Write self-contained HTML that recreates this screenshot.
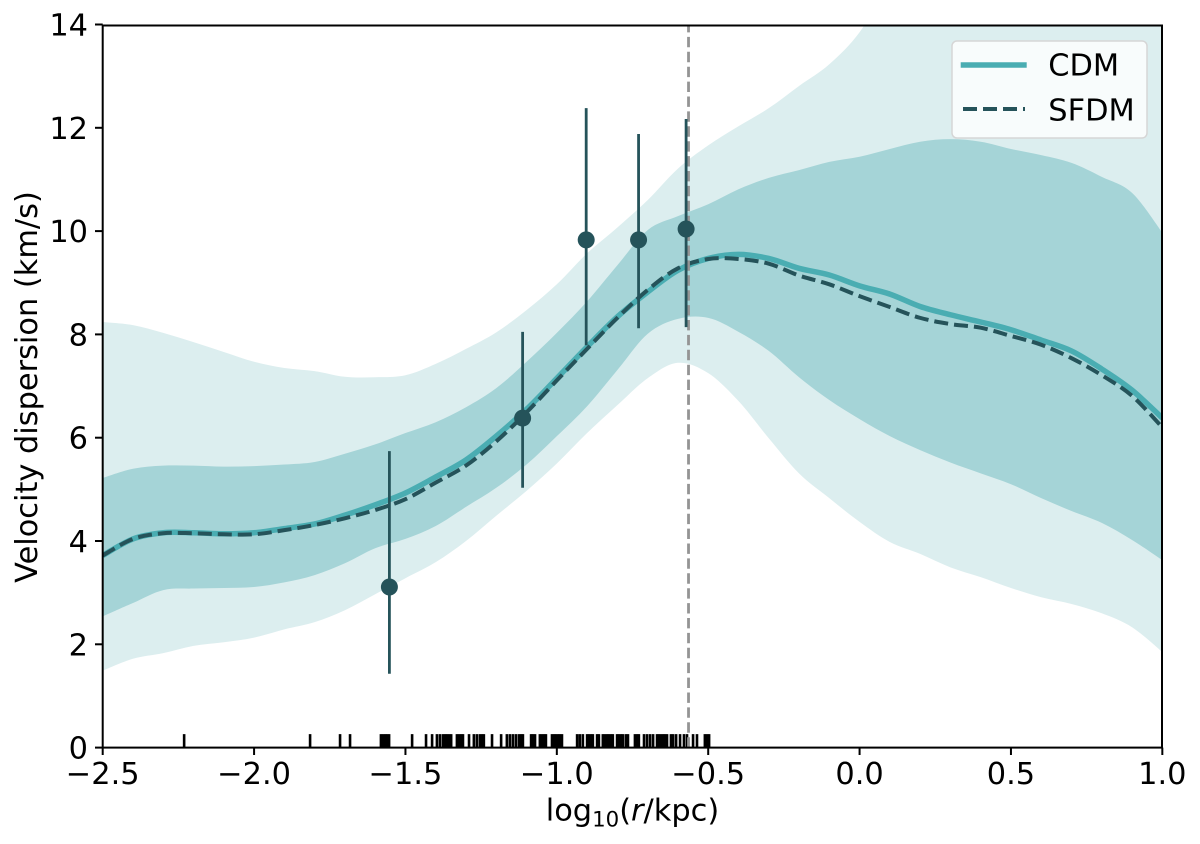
<!DOCTYPE html>
<html>
<head>
<meta charset="utf-8">
<title>Velocity dispersion profile</title>
<style>
html,body{margin:0;padding:0;background:#fff;width:1200px;height:844px;overflow:hidden}
svg{display:block}
text{font-family:"DejaVu Sans","Liberation Sans",sans-serif;fill:#000}
</style>
</head>
<body>
<svg id="chart" xmlns="http://www.w3.org/2000/svg" width="1200" height="844" viewBox="0 0 1200 844">
<defs><clipPath id="plot-clip"><rect x="102.7" y="25" width="1059.3" height="722.6"/></clipPath></defs>
<g id="plot" clip-path="url(#plot-clip)"></g>
<g id="frame"></g>
<text x="632.5" y="820.5" text-anchor="middle" font-size="30.4">log<tspan font-size="21.3" dy="6">10</tspan><tspan dy="-6">(</tspan><tspan font-style="italic">r</tspan>/kpc)</text>
<text transform="translate(37,387) rotate(-90)" text-anchor="middle" font-size="30.4">Velocity dispersion (km/s)</text>
<g>
  <rect x="952" y="41" width="195" height="97" rx="5" ry="5" fill="#fff" fill-opacity="0.8" stroke="#d6d6d6" stroke-width="1.5"/>
  <line x1="960.7" x2="1026.7" y1="65" y2="65" stroke="#4AADB2" stroke-width="5.5"/>
  <text x="1048.3" y="75.5" font-size="30.4">CDM</text>
  <line x1="963" x2="1025" y1="109" y2="109" stroke="#25535A" stroke-width="4" stroke-dasharray="14 6"/>
  <text x="1048.3" y="120.5" font-size="30.4">SFDM</text>
</g>
</svg>
<script>
const radius = [-2.5,-2.4,-2.3,-2.2,-2.1,-2.0,-1.9,-1.8,-1.7,-1.6,-1.5,-1.4,-1.3,-1.2,-1.1,-1.0,-0.9,-0.8,-0.7,-0.6,-0.5,-0.4,-0.3,-0.2,-0.1,0,0.1,0.2,0.3,0.4,0.5,0.6,0.7,0.8,0.9,1.0];
const outerUpper = [8.24,8.18,8.03,7.85,7.66,7.47,7.35,7.29,7.18,7.17,7.21,7.43,7.72,8.04,8.47,8.97,9.57,10.07,10.6,11.21,11.66,12.03,12.38,12.81,13.23,13.85,14.8,15.4,15.9,16.3,16.6,16.8,17,17.1,17.2,17.3];
const outerLower = [1.49,1.72,1.83,1.97,2.04,2.13,2.29,2.43,2.66,2.97,3.28,3.59,4.0,4.49,4.97,5.5,6.09,6.63,7.15,7.45,7.25,6.71,5.99,5.31,4.83,4.37,3.98,3.75,3.49,3.30,3.09,2.91,2.78,2.6,2.33,1.85];
const innerUpper = [5.22,5.4,5.46,5.46,5.44,5.45,5.48,5.53,5.69,5.87,6.09,6.30,6.59,6.96,7.47,8.03,8.64,9.34,10.02,10.29,10.52,10.81,11.03,11.18,11.34,11.44,11.59,11.73,11.78,11.73,11.59,11.47,11.32,11.05,10.74,9.97];
const innerLower = [2.54,2.8,3.05,3.08,3.09,3.11,3.2,3.34,3.57,3.86,4.04,4.29,4.66,5.03,5.48,6.03,6.61,7.31,8.01,8.3,8.32,8.05,7.68,7.17,6.73,6.36,6.03,5.76,5.52,5.31,5.1,4.83,4.58,4.35,4.02,3.63];
const cdm = [3.72,4.04,4.16,4.16,4.14,4.16,4.24,4.33,4.5,4.7,4.93,5.24,5.57,6.03,6.55,7.15,7.76,8.34,8.82,9.24,9.47,9.55,9.47,9.28,9.15,8.94,8.78,8.54,8.38,8.24,8.09,7.89,7.68,7.33,6.92,6.38];
const sfdm = [3.72,4.04,4.15,4.15,4.13,4.13,4.21,4.31,4.44,4.6,4.81,5.13,5.46,5.93,6.49,7.11,7.72,8.32,8.86,9.28,9.46,9.46,9.37,9.14,8.97,8.74,8.53,8.32,8.2,8.13,7.97,7.8,7.54,7.21,6.81,6.2];
const obsX = [-1.553,-1.113,-0.903,-0.73,-0.573];
const obsY = [3.11,6.38,9.83,9.83,10.04];
const obsHigh = [5.74,8.05,12.38,11.88,12.17];
const obsLow = [1.43,5.03,7.79,8.12,8.14];
const rugValues = [-2.231,-1.815,-1.716,-1.683,-1.581,-1.574,-1.567,-1.561,-1.554,-1.478,-1.432,-1.412,-1.396,-1.386,-1.376,-1.369,-1.363,-1.356,-1.349,-1.330,-1.323,-1.316,-1.310,-1.290,-1.274,-1.264,-1.254,-1.247,-1.241,-1.214,-1.184,-1.165,-1.155,-1.145,-1.135,-1.125,-1.118,-1.112,-1.085,-1.079,-1.072,-1.056,-1.049,-1.042,-1.036,-1.016,-1.009,-1.003,-0.996,-0.990,-0.983,-0.933,-0.924,-0.914,-0.900,-0.894,-0.887,-0.881,-0.867,-0.861,-0.848,-0.841,-0.834,-0.828,-0.821,-0.815,-0.801,-0.795,-0.788,-0.782,-0.772,-0.765,-0.742,-0.735,-0.729,-0.712,-0.702,-0.692,-0.682,-0.669,-0.663,-0.656,-0.649,-0.643,-0.636,-0.623,-0.616,-0.606,-0.593,-0.580,-0.570,-0.550,-0.537,-0.511,-0.504,-0.497];
const halfLightRadius = -0.565;
const xTicks = [-2.5,-2.0,-1.5,-1.0,-0.5,0.0,0.5,1.0];
const yTicks = [0,2,4,6,8,10,12,14];

const NS = 'http://www.w3.org/2000/svg';
const plot = document.getElementById('plot');
const frame = document.getElementById('frame');
const xPos = v => 102.7 + (v + 2.5) * 302.75;
const yPos = v => 747.6 - v * 51.65;
const mk = (parent, tag, attrs) => {
  const el = document.createElementNS(NS, tag);
  for (const k in attrs) el.setAttribute(k, attrs[k]);
  parent.appendChild(el);
  return el;
};
/* Catmull-Rom curve segments through the mapped data points */
const curve = pts => {
  let d = '';
  for (let i = 0; i < pts.length - 1; i++) {
    const p0 = pts[Math.max(i - 1, 0)], p1 = pts[i], p2 = pts[i + 1], p3 = pts[Math.min(i + 2, pts.length - 1)];
    const c1x = p1[0] + (p2[0] - p0[0]) / 6, c1y = p1[1] + (p2[1] - p0[1]) / 6;
    const c2x = p2[0] - (p3[0] - p1[0]) / 6, c2y = p2[1] - (p3[1] - p1[1]) / 6;
    d += 'C' + c1x.toFixed(2) + ' ' + c1y.toFixed(2) + ' ' + c2x.toFixed(2) + ' ' + c2y.toFixed(2) + ' ' + p2[0].toFixed(2) + ' ' + p2[1].toFixed(2);
  }
  return d;
};
const mapped = s => radius.map((x, i) => [xPos(x), yPos(s[i])]);
const linePath = s => {
  const p = mapped(s);
  return 'M' + p[0][0] + ' ' + p[0][1] + curve(p);
};
const bandPath = (hi, lo) => {
  const a = mapped(hi), b = mapped(lo).reverse();
  return 'M' + a[0][0] + ' ' + a[0][1] + curve(a) + 'L' + b[0][0] + ' ' + b[0][1] + curve(b) + 'Z';
};

rugValues.forEach(v => {
  const el = mk(plot, 'line', {x1: xPos(v), x2: xPos(v), y1: yPos(0), y2: yPos(0) - 13.5, stroke: '#000', 'stroke-width': 2.6});
  
  
});

const bandOuter = mk(plot, 'path', {d: bandPath(outerUpper, outerLower), fill: '#DCEEEF'});



const bandInner = mk(plot, 'path', {d: bandPath(innerUpper, innerLower), fill: '#A5D4D7'});



const cdmLine = mk(plot, 'path', {d: linePath(cdm), fill: 'none', stroke: '#4AADB2', 'stroke-width': 5.5, 'stroke-linejoin': 'round'});



const sfdmLine = mk(plot, 'path', {d: linePath(sfdm), fill: 'none', stroke: '#25535A', 'stroke-width': 4, 'stroke-dasharray': '14 6'});



const vline = mk(plot, 'line', {x1: xPos(halfLightRadius), x2: xPos(halfLightRadius), y1: yPos(0), y2: yPos(14), stroke: '#949494', 'stroke-width': 2.8, 'stroke-dasharray': '10.4 4.5'});



obsX.forEach((x, i) => {
  const bar = mk(plot, 'line', {x1: xPos(x), x2: xPos(x), y1: yPos(obsHigh[i]), y2: yPos(obsLow[i]), stroke: '#25535A', 'stroke-width': 2.8});
  
  
  const dot = mk(plot, 'circle', {cx: xPos(x), cy: yPos(obsY[i]), r: 8.5, fill: '#25535A'});
  
  
});

const spines = mk(frame, 'rect', {x: 102.7, y: 25.5, width: 1059.3, height: 722.1, fill: 'none', stroke: '#000', 'stroke-width': 2});



xTicks.forEach(v => {
  const t = mk(frame, 'line', {x1: xPos(v), x2: xPos(v), y1: 747.6, y2: 755, stroke: '#000', 'stroke-width': 2});
  
  
  const l = mk(frame, 'text', {x: xPos(v), y: 784, 'text-anchor': 'middle', 'font-size': 30.4});
  
  
  l.textContent = (v < 0 ? '\u2212' : '') + Math.abs(v).toFixed(1);
});

yTicks.forEach(v => {
  const t = mk(frame, 'line', {x1: 95, x2: 102.7, y1: yPos(v), y2: yPos(v), stroke: '#000', 'stroke-width': 2});
  
  
  const l = mk(frame, 'text', {x: 88, y: yPos(v) + 11, 'text-anchor': 'end', 'font-size': 30.4});
  
  
  l.textContent = String(v);
});
</script>
</body>
</html>
